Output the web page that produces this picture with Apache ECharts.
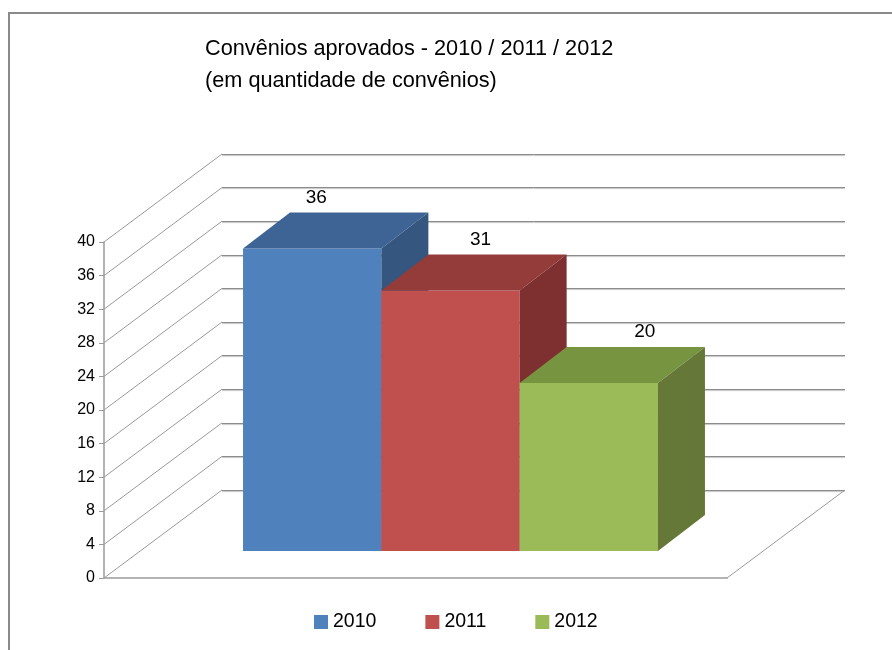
<!DOCTYPE html>
<html>
<head>
<meta charset="utf-8">
<script src="https://cdn.jsdelivr.net/npm/echarts@6/dist/echarts.min.js"></script>
<style>
  html, body { margin: 0; padding: 0; background: #fff; }
  #chart { width: 892px; height: 650px; }
</style>
</head>
<body>
<div id="chart"></div>
<script>
(function () {
    // dados do gráfico
    var anos = ['2010', '2011', '2012'];
    var convenios = [36, 31, 20];
    var categorias = ['Convênios aprovados'];
    var yTicks = [0, 4, 8, 12, 16, 20, 24, 28, 32, 36, 40];

    var corFrente = ['#4F81BD', '#C0504D', '#9BBB59'];
    var corTopo = ['#3E6395', '#943C3A', '#779441'];
    var corLado = ['#34567F', '#7D302F', '#657837'];

    var fonte = '"Liberation Sans", Arial, sans-serif';
    // profundidade da caixa 3D (parede de fundo)
    var PROF_X = 118, PROF_Y = -88;

    var myChart = echarts.init(document.getElementById('chart'));

    function barra(i) {
        return function (params, api) {
            var base = api.coord([0, 0]);
            var topo = api.coord([0, api.value(1)]);
            var larg = api.size([1, 0])[0] * 0.222;
            var x0 = base[0] - 1.5 * larg + i * larg + 35;
            var x1 = x0 + larg;
            var yb = base[1] - 27, yt = topo[1] - 27;
            var dx = 47, dy = -36;
            return {
                type: 'group',
                children: [
                    {
                        type: 'polygon',
                        shape: { points: [[x0, yt], [x1, yt], [x1, yb], [x0, yb]] },
                        style: { fill: corFrente[i] }
                    },
                    {
                        type: 'polygon',
                        shape: { points: [[x0, yt], [x1, yt], [x1 + dx, yt + dy], [x0 + dx, yt + dy]] },
                        style: { fill: corTopo[i] }
                    },
                    {
                        type: 'polygon',
                        shape: { points: [[x1, yt], [x1 + dx, yt + dy], [x1 + dx, yb + dy], [x1, yb]] },
                        style: { fill: corLado[i] }
                    },
                    {
                        type: 'text',
                        style: {
                            text: String(api.value(1)),
                            x: (x0 + x1) / 2 + dx - 43 + i * 26,
                            y: yt + dy - 15,
                            align: 'center',
                            verticalAlign: 'middle',
                            fontSize: 19,
                            fontFamily: fonte,
                            fill: '#000'
                        }
                    }
                ]
            };
        };
    }

    var series = [
        {
            // paredes laterais e chão
            type: 'custom',
            name: 'paredes',
            silent: true,
            xAxisIndex: 0,
            yAxisIndex: 0,
            data: yTicks.map(function (v) { return [0, v]; }),
            renderItem: function (params, api) {
                var cs = params.coordSys;
                var p = api.coord([0, api.value(1)]);
                var filhos = [{
                    type: 'line',
                    shape: { x1: cs.x, y1: p[1], x2: cs.x + PROF_X, y2: p[1] + PROF_Y },
                    style: { stroke: '#9a9a9a', lineWidth: 1 }
                }];
                if (api.value(1) === 0) {
                    filhos.push({
                        type: 'line',
                        shape: { x1: cs.x + cs.width, y1: p[1], x2: cs.x + cs.width + PROF_X, y2: p[1] + PROF_Y },
                        style: { stroke: '#9a9a9a', lineWidth: 1 }
                    });
                }
                return { type: 'group', children: filhos };
            },
            z: 1
        }
    ];
    anos.forEach(function (ano, i) {
        series.push({
            type: 'custom',
            name: ano,
            xAxisIndex: 0,
            yAxisIndex: 0,
            itemStyle: { color: corFrente[i] },
            data: [[0, convenios[i]]],
            renderItem: barra(i),
            z: 3
        });
    });

    option = {
        animation: false,
        backgroundColor: '#fff',
        title: {
            text: 'Convênios aprovados - 2010 / 2011 / 2012\n(em quantidade de convênios)',
            left: 205,
            top: 33,
            padding: 0,
            textStyle: {
                fontFamily: fonte,
                fontSize: 21.7,
                fontWeight: 'normal',
                lineHeight: 32,
                color: '#000'
            }
        },
        legend: {
            data: anos,
            left: 314,
            top: 612,
            padding: 0,
            icon: 'rect',
            itemWidth: 14,
            itemHeight: 14,
            itemGap: 49,
            textStyle: { fontFamily: fonte, fontSize: 19.5, color: '#000' }
        },
        graphic: [{
            type: 'rect',
            silent: true,
            shape: { x: 9, y: 13, width: 1000, height: 1000 },
            style: { fill: 'none', stroke: '#8a8a8a', lineWidth: 2 }
        }],
        grid: [
            { left: 104, top: 242, width: 623, height: 336 },
            { left: 104 + PROF_X, top: 242 + PROF_Y, width: 623, height: 336 }
        ],
        xAxis: [
            {
                type: 'category',
                gridIndex: 0,
                data: categorias,
                axisLine: { lineStyle: { color: '#b3b3b3', width: 2 } },
                axisTick: { show: false },
                axisLabel: { show: false }
            },
            {
                type: 'category',
                gridIndex: 1,
                data: categorias,
                axisLine: { show: false },
                axisTick: { show: false },
                axisLabel: { show: false }
            }
        ],
        yAxis: [
            {
                type: 'value',
                gridIndex: 0,
                min: 0,
                max: 40,
                interval: 4,
                axisLine: { show: true, lineStyle: { color: '#9a9a9a', width: 1.5 } },
                axisTick: { show: true, length: 5, lineStyle: { color: '#9a9a9a' } },
                axisLabel: { margin: 9, fontFamily: fonte, fontSize: 16, color: '#000' },
                splitLine: { show: false }
            },
            {
                type: 'value',
                gridIndex: 1,
                min: 0,
                max: 40,
                interval: 4,
                axisLine: { show: false },
                axisTick: { show: false },
                axisLabel: { show: false },
                splitLine: {
                    show: true,
                    lineStyle: {
                        color: '#8c8c8c',
                        width: 1,
                        shadowColor: 'rgba(0,0,0,0.25)',
                        shadowOffsetY: 1,
                        shadowBlur: 1
                    }
                }
            }
        ],
        series: series
    };
    myChart.setOption(option);
})();
</script>
</body>
</html>
